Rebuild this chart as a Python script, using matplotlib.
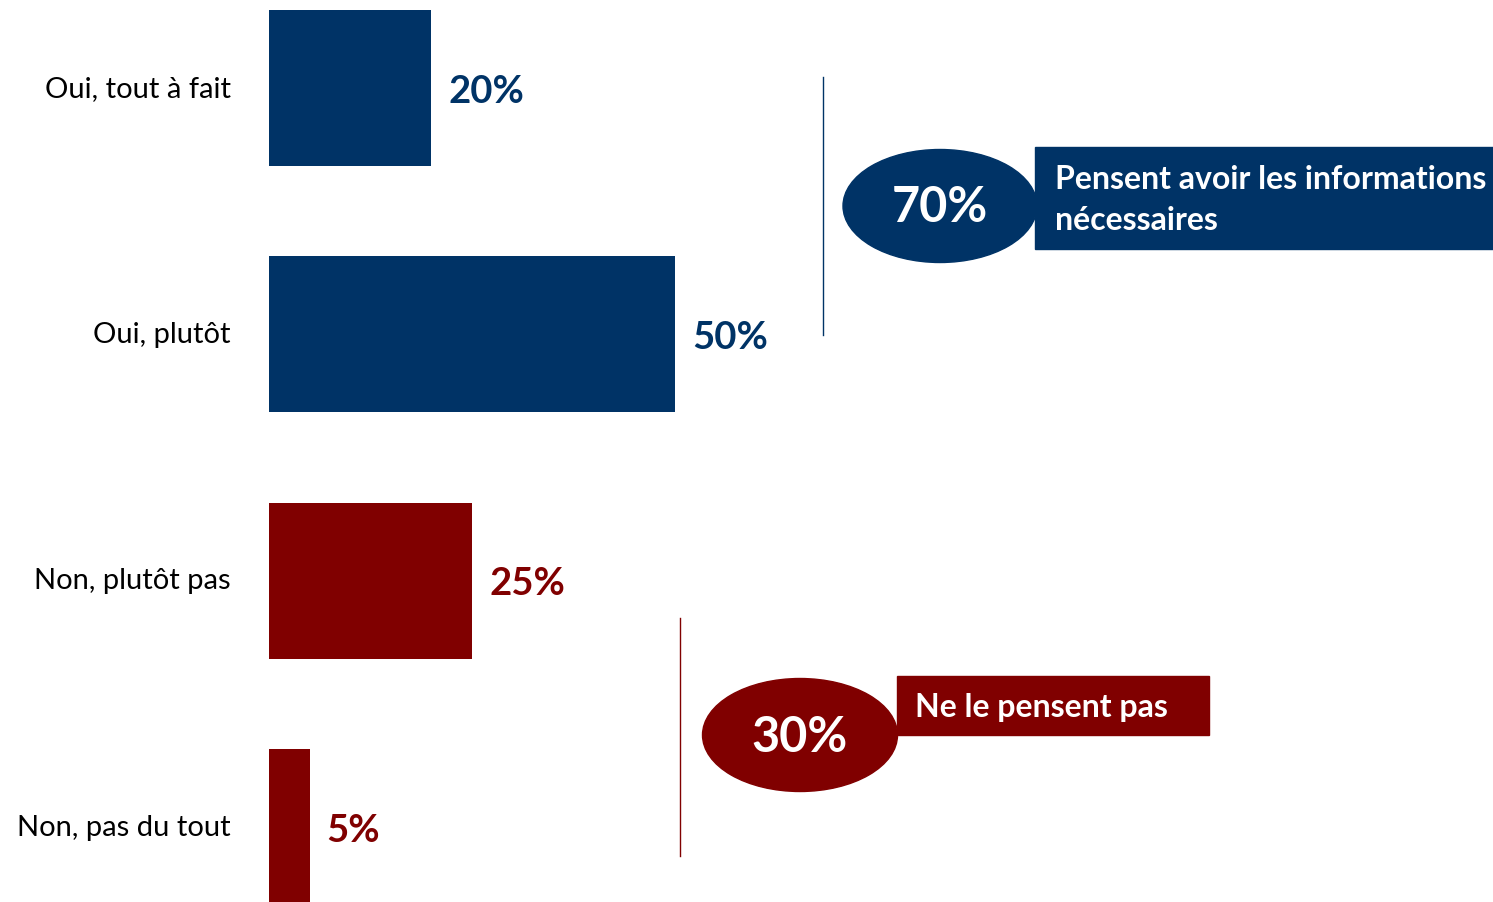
import matplotlib
matplotlib.use("Agg")
import matplotlib.pyplot as plt
from matplotlib.patches import Ellipse, Rectangle

plt.rcParams['font.family'] = ['Lato', 'DejaVu Sans']

categories = ["Oui, tout à fait", "Oui, plutôt", "Non, plutôt pas", "Non, pas du tout"]
values = [20, 50, 25, 5]
value_labels = ["20%", "50%", "25%", "5%"]
navy = "#003366"
red = "#800000"
colors = [navy, navy, red, red]

W, H = 1493, 902
fig = plt.figure(figsize=(W / 100, H / 100), dpi=100)

# main axes covering whole figure; x in %, y in category index
ax = fig.add_axes([0, 0, 1, 1])
px_per_pct = 8.12
x0 = 269
ax.set_xlim(-x0 / px_per_pct, (W - x0) / px_per_pct)
row = 246.3
top = 88
ax.set_ylim((H - top) / row, -top / row)
ax.axis("off")

ypos = list(range(len(categories)))
ax.barh(ypos, values, height=0.633, color=colors, left=0)
for y, v, lab, c, cat in zip(ypos, values, value_labels, colors, categories):
    ax.text(v + 2.1, y + 0.015, lab, color=c, fontsize=27.5, fontweight="bold",
            va="center", ha="left")
    ax.text(-4.7, y + 0.003, cat, color="black", fontsize=21, va="center", ha="right")

# overlay axes in pixel coordinates for the callouts
ov = fig.add_axes([0, 0, 1, 1])
ov.set_xlim(0, W)
ov.set_ylim(H, 0)
ov.axis("off")

# navy group
ov.plot([823, 823], [77, 335], color=navy, lw=1)
ov.add_patch(Ellipse((940, 206), 194, 113, color=navy))
ov.add_patch(Rectangle((1035, 147), 470, 102, color=navy))
ov.text(940, 208, "70%", color="white", fontsize=35, fontweight="bold",
        ha="center", va="center")
ov.text(1055, 200, "Pensent avoir les informations\nnécessaires", color="white",
        fontsize=23, fontweight="bold", ha="left", va="center", linespacing=1.52)

# red group
ov.plot([680, 680], [618, 856], color=red, lw=1)
ov.add_patch(Ellipse((800, 735), 195, 113, color=red))
ov.add_patch(Rectangle((897, 676), 312, 59, color=red))
ov.text(800, 737, "30%", color="white", fontsize=35, fontweight="bold",
        ha="center", va="center")
ov.text(915, 707, "Ne le pensent pas", color="white", fontsize=23,
        fontweight="bold", ha="left", va="center")

fig.savefig("out.png", dpi=100)
